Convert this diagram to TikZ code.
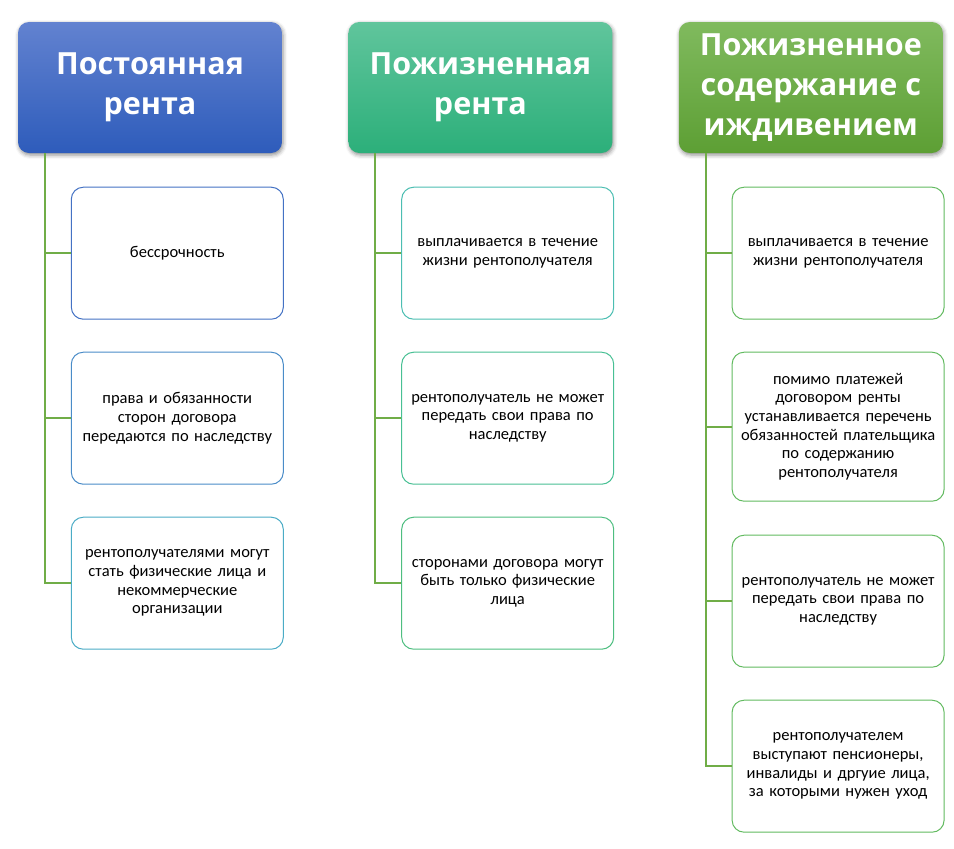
\documentclass[tikz,border=0pt]{standalone}
\usepackage{fontspec}
\setmainfont{Carlito}
\newfontfamily\headfont{Open Sans}
\usetikzlibrary{positioning}
\usetikzlibrary{shadows.blur}
\definecolor{blueA}{RGB}{98,130,208}
\definecolor{blueB}{RGB}{46,92,187}
\definecolor{tealA}{RGB}{96,197,156}
\definecolor{tealB}{RGB}{44,175,122}
\definecolor{greenA}{RGB}{128,186,94}
\definecolor{greenB}{RGB}{93,159,52}
\definecolor{linkgreen}{RGB}{112,173,71}
\definecolor{edgeblue}{RGB}{68,114,196}
\definecolor{edgesky}{RGB}{74,140,200}
\definecolor{edgecyan}{RGB}{75,172,198}
\definecolor{edgeteal}{RGB}{76,190,178}
\definecolor{edgemint}{RGB}{72,192,148}
\definecolor{edgejade}{RGB}{78,190,128}
\definecolor{edgegreen}{RGB}{98,186,96}
\newcommand{\widthhead}{264pt}
\newcommand{\heighthead}{131pt}
\newcommand{\widthitem}{212pt}
\newcommand{\heightitem}{132pt}
\tikzset{
    head/.style={rounded corners=11pt, minimum width=\widthhead, minimum height=\heighthead,
        text=white, align=center, font=\headfont\bfseries\fontsize{30.5}{40}\selectfont,
        blur shadow={shadow xshift=1pt, shadow yshift=-2pt, shadow blur radius=4pt, shadow opacity=45}},
    item/.style={draw, line width=1pt, rounded corners=12pt, fill=white,
        minimum width=\widthitem, minimum height=\heightitem, text width=202pt, align=center,
        font=\fontsize{16.5}{18.7}\selectfont},
    link/.style={draw=linkgreen, line width=2pt},
}
\begin{document}
\begin{tikzpicture}
    \useasboundingbox (0pt,0pt) rectangle (954pt,-849pt);

    % headers
    \node[head, top color=blueA, bottom color=blueB] (h1) at (150pt,-87.5pt) {Постоянная\\рента};
    \node[head, top color=tealA, bottom color=tealB, right=66pt of h1] (h2) {Пожизненная\\рента};
    \node[head, top color=greenA, bottom color=greenB, right=66pt of h2] (h3) {Пожизненное\\содержание с\\иждивением};

    % column 1
    \node[item, draw=edgeblue, below right=33.5pt and 53pt of h1.south west] (c1a) {бессрочность};
    \node[item, draw=edgesky, below=32pt of c1a] (c1b) {права и обязанности\\сторон договора\\передаются по наследству};
    \node[item, draw=edgecyan, below=32pt of c1b] (c1c) {рентополучателями могут\\стать физические лица и\\некоммерческие\\организации};

    % column 2
    \node[item, draw=edgeteal, below right=33.5pt and 53pt of h2.south west] (c2a) {выплачивается в течение\\жизни рентополучателя};
    \node[item, draw=edgemint, below=32pt of c2a] (c2b) {рентополучатель не может\\передать свои права по\\наследству};
    \node[item, draw=edgejade, below=32pt of c2b] (c2c) {сторонами договора могут\\быть только физические\\лица};

    % column 3
    \node[item, draw=edgegreen, below right=33.5pt and 53pt of h3.south west] (c3a) {выплачивается в течение\\жизни рентополучателя};
    \node[item, draw=edgegreen, minimum height=149pt, below=32pt of c3a] (c3b) {помимо платежей\\договором ренты\\устанавливается перечень\\обязанностей плательщика\\по содержанию\\рентополучателя};
    \node[item, draw=edgegreen, below=33pt of c3b] (c3c) {рентополучатель не может\\передать свои права по\\наследству};
    \node[item, draw=edgegreen, below=32pt of c3c] (c3d) {рентополучателем\\выступают пенсионеры,\\инвалиды и дргуие лица,\\за которыми нужен уход};

    \draw[link] ([xshift=27pt]h1.south west) |- (c1a.west);
    \draw[link] ([xshift=27pt]h1.south west) |- (c1b.west);
    \draw[link] ([xshift=27pt]h1.south west) |- (c1c.west);
    \draw[link] ([xshift=27pt]h2.south west) |- (c2a.west);
    \draw[link] ([xshift=27pt]h2.south west) |- (c2b.west);
    \draw[link] ([xshift=27pt]h2.south west) |- (c2c.west);
    \draw[link] ([xshift=27pt]h3.south west) |- (c3a.west);
    \draw[link] ([xshift=27pt]h3.south west) |- (c3b.west);
    \draw[link] ([xshift=27pt]h3.south west) |- (c3c.west);
    \draw[link] ([xshift=27pt]h3.south west) |- (c3d.west);
\end{tikzpicture}
\end{document}
